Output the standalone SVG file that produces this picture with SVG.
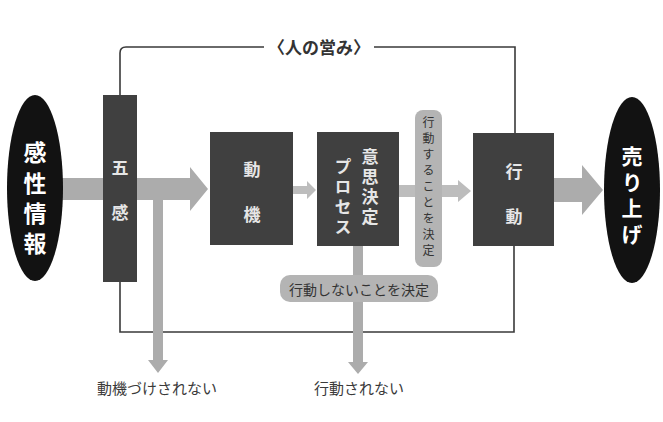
<svg xmlns="http://www.w3.org/2000/svg" width="663" height="422" viewBox="0 0 663 422">
<style>
text{font-family:"Noto Sans CJK JP","Noto Sans",sans-serif;text-anchor:middle;dominant-baseline:central}
.v{writing-mode:vertical-rl}
.box{fill:#404040}
.oval{fill:#121212}
.wt{fill:#e6e6e6;font-weight:bold;font-size:17px}
.pw{fill:#e6e6e6;font-weight:bold;font-size:17px;writing-mode:vertical-rl}
.ot{fill:#ffffff;font-weight:bold;font-size:23px;writing-mode:vertical-rl}
.ut{fill:#ffffff;font-weight:bold;font-size:21px;writing-mode:vertical-rl}
.pill{fill:#b4b4b4}
.pt{fill:#333;font-size:12px}
.lab{fill:#3a3a3a;font-size:15px}
.ln{fill:none;stroke:#3a3a3a;stroke-width:1.6}
.ga{fill:#acacac}
.la{fill:#bdbdbd}
</style>
<rect width="663" height="422" fill="#ffffff"/>
<g id="connectors">
  <path class="ln" d="M120 95 V53 Q120 47 126 47 H264"/>
  <path class="ln" d="M374 47 H515 V133"/>
  <path class="ln" d="M120 282 V332 H514 V246"/>
  <polygon class="ga" points="60,178 190,178 190,167 208,189 190,211 190,200 60,200"/>
  <polygon class="ga" points="153,200 163,200 163,360 168,360 158,373 148,360 153,360"/>
  <polygon class="la" points="293,186 307,186 307,181 316,190 307,199 307,194 293,194"/>
  <polygon class="la" points="399,185 458,185 458,180 471,191 458,202 458,197 399,197"/>
  <polygon class="ga" points="353,246 363,246 363,362 368,362 358,374 348,362 353,362"/>
  <polygon class="ga" points="554,178 582,178 582,165 603,190 582,215 582,202 554,202"/>
</g>
<g id="label-top"><text x="319" y="46" style="fill:#333;font-size:17px;font-weight:bold">〈人の営み〉</text></g>
<g id="n-kansei">
  <ellipse class="oval" cx="35" cy="188" rx="28" ry="93"/>
  <text class="ot" x="35" y="152">感</text><text class="ot" x="35" y="183">性</text><text class="ot" x="35" y="213">情</text><text class="ot" x="35" y="243">報</text>
</g>
<g id="n-gokan">
  <rect class="box" x="103" y="95" width="34" height="187"/>
  <text class="wt" x="120" y="166">五</text><text class="wt" x="120" y="211">感</text>
</g>
<g id="n-douki">
  <rect class="box" x="210" y="132" width="83" height="113"/>
  <text class="wt" x="252" y="168">動</text><text class="wt" x="252" y="213">機</text>
</g>
<g id="n-ishi">
  <rect class="box" x="317" y="132" width="82" height="114"/>
  <text class="pw" x="370" y="157">意</text><text class="pw" x="370" y="177">思</text><text class="pw" x="370" y="197">決</text><text class="pw" x="370" y="217">定</text>
  <text class="pw" x="343" y="167">プ</text><text class="pw" x="343" y="187">ロ</text><text class="pw" x="343" y="207">セ</text><text class="pw" x="343" y="227">ス</text>
</g>
<g id="n-suru">
  <rect class="pill" x="415" y="110" width="27" height="157" rx="8"/>
  <text class="pt v" x="428.5" y="188" style="letter-spacing:4px">行動することを決定</text>
</g>
<g id="n-koudou">
  <rect class="box" x="473" y="133" width="81" height="113"/>
  <text class="wt" x="514" y="170">行</text><text class="wt" x="514" y="215">動</text>
</g>
<g id="n-uriage">
  <ellipse class="oval" cx="632" cy="190" rx="28" ry="93"/>
  <text class="ut" x="632" y="156">売</text><text class="ut" x="632" y="182">り</text><text class="ut" x="632" y="208">上</text><text class="ut" x="632" y="234">げ</text>
</g>
<g id="n-shinai">
  <rect class="pill" x="280" y="275" width="158" height="27" rx="10"/>
  <text class="pt" x="359" y="288.5" style="font-size:14px">行動しないことを決定</text>
</g>
<g id="n-doukinashi"><text class="lab" x="157" y="387">動機づけされない</text></g>
<g id="n-koudounashi"><text class="lab" x="359" y="387">行動されない</text></g>
</svg>
